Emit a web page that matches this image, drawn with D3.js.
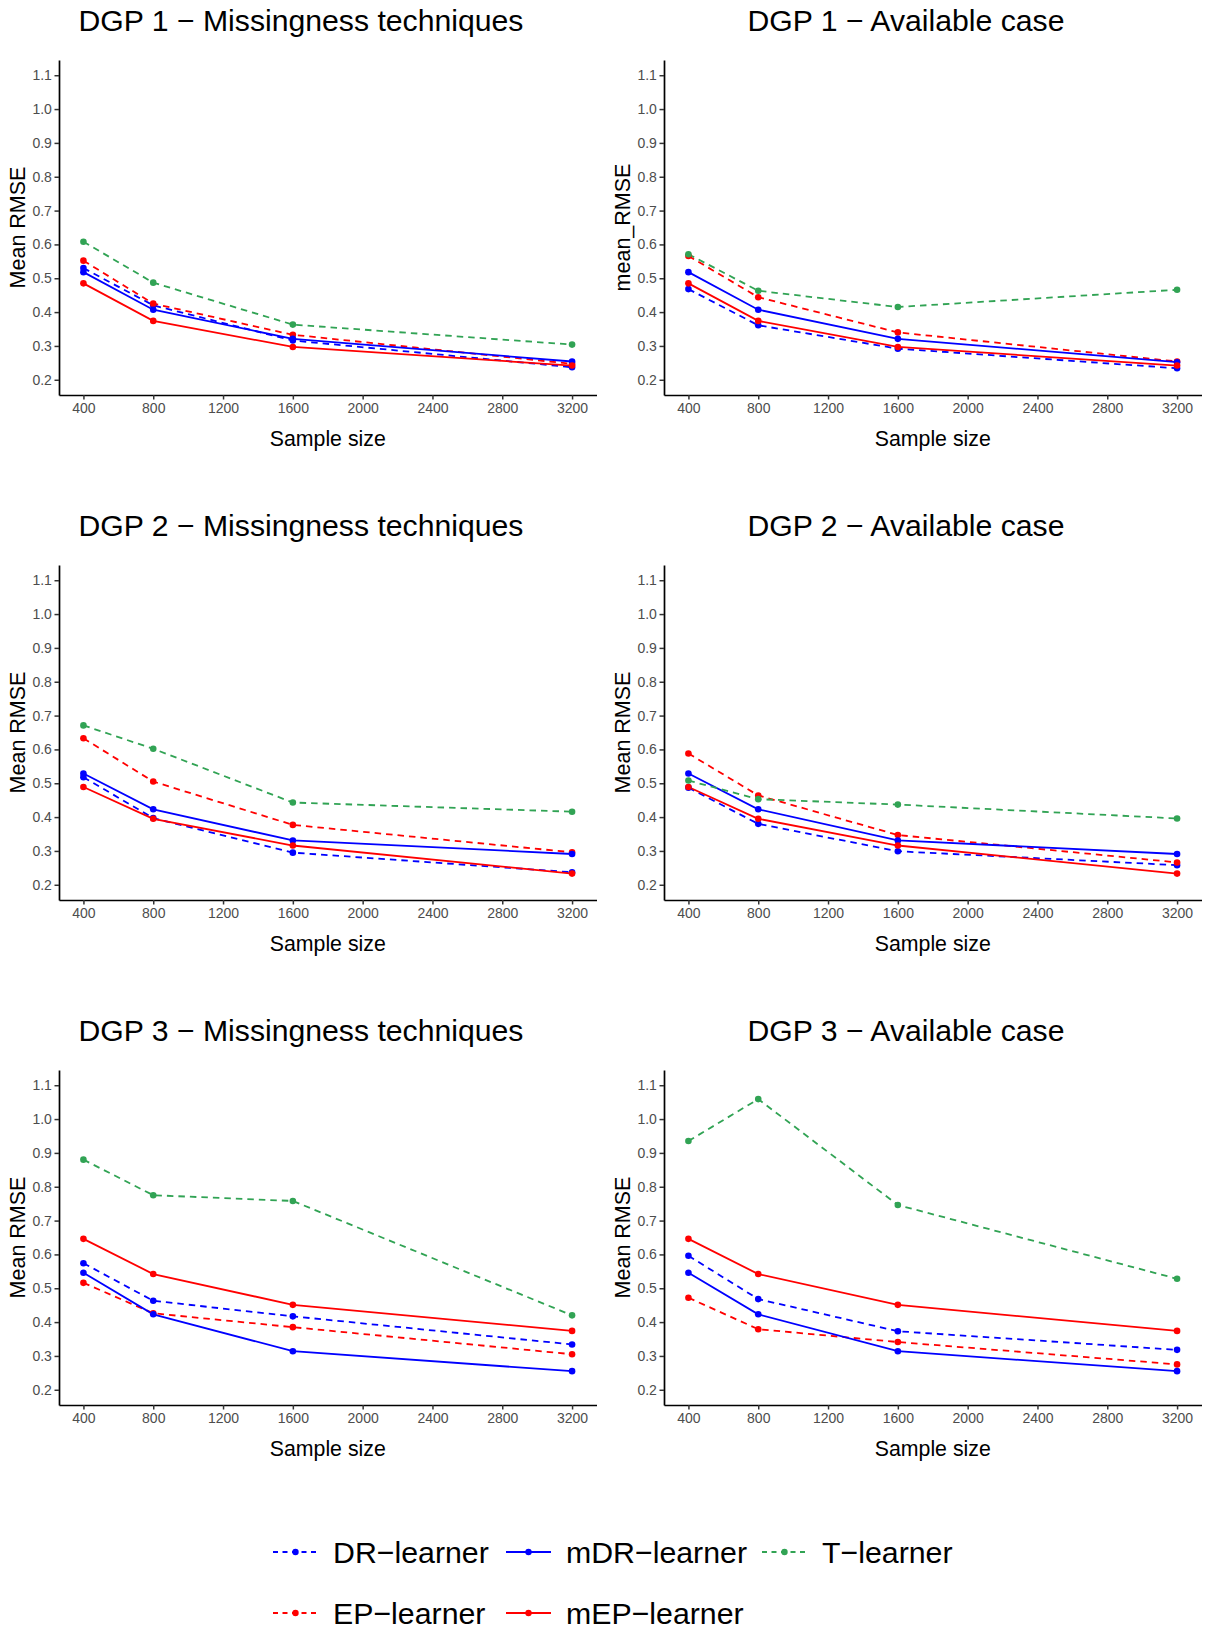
<!DOCTYPE html>
<html><head><meta charset="utf-8">
<script src="https://cdn.jsdelivr.net/npm/d3@7"></script>
<style>body{margin:0;background:#fff}</style>
</head><body><svg id="c" width="1210" height="1650" xmlns="http://www.w3.org/2000/svg"></svg>
<script>
// ---------- data ----------
const sampleSizes = [400, 800, 1600, 3200];
const xTicks = [400, 800, 1200, 1600, 2000, 2400, 2800, 3200];
const yTicks = [0.2, 0.3, 0.4, 0.5, 0.6, 0.7, 0.8, 0.9, 1.0, 1.1];
const learners = ["DR\u2212learner", "EP\u2212learner", "mDR\u2212learner", "mEP\u2212learner", "T\u2212learner"];
const learnerColors = ["#0000FF", "#FF0000", "#0000FF", "#FF0000", "#31A354"];
const learnerDashed = [true, true, false, false, true];

// series order follows `learners`: DR, EP, mDR, mEP, T
const dgp1Missing = [
  [0.530, 0.420, 0.316, 0.237],
  [0.552, 0.425, 0.333, 0.247],
  [0.518, 0.407, 0.321, 0.254],
  [0.485, 0.374, 0.297, 0.242],
  [0.608, 0.487, 0.363, 0.304]
];
const dgp1Available = [
  [0.468, 0.361, 0.292, 0.234],
  [0.566, 0.444, 0.340, 0.254],
  [0.518, 0.407, 0.321, 0.252],
  [0.485, 0.374, 0.297, 0.242],
  [0.571, 0.463, 0.415, 0.466]
];
const dgp2Missing = [
  [0.518, 0.397, 0.295, 0.237],
  [0.633, 0.505, 0.377, 0.296],
  [0.529, 0.423, 0.331, 0.291],
  [0.489, 0.395, 0.316, 0.233],
  [0.671, 0.602, 0.443, 0.416]
];
const dgp2Available = [
  [0.487, 0.380, 0.299, 0.258],
  [0.588, 0.464, 0.347, 0.266],
  [0.529, 0.423, 0.331, 0.291],
  [0.489, 0.395, 0.316, 0.233],
  [0.508, 0.453, 0.437, 0.396]
];
const dgp3Missing = [
  [0.574, 0.463, 0.417, 0.334],
  [0.516, 0.426, 0.385, 0.305],
  [0.546, 0.423, 0.314, 0.255],
  [0.646, 0.542, 0.451, 0.374],
  [0.880, 0.775, 0.758, 0.420]
];
const dgp3Available = [
  [0.596, 0.468, 0.373, 0.318],
  [0.472, 0.379, 0.341, 0.275],
  [0.546, 0.423, 0.314, 0.255],
  [0.646, 0.542, 0.451, 0.374],
  [0.935, 1.059, 0.746, 0.528]
];
const panelData = [dgp1Missing, dgp1Available, dgp2Missing, dgp2Available, dgp3Missing, dgp3Available];
const panelTitles = [
  "DGP 1 \u2212 Missingness techniques", "DGP 1 \u2212 Available case",
  "DGP 2 \u2212 Missingness techniques", "DGP 2 \u2212 Available case",
  "DGP 3 \u2212 Missingness techniques", "DGP 3 \u2212 Available case"
];
const yLabels = ["Mean RMSE", "mean_RMSE", "Mean RMSE", "Mean RMSE", "Mean RMSE", "Mean RMSE"];
const xLabel = "Sample size";
const yLimits = [0.2, 1.1];

// ---------- drawing ----------
const FONT = "'Liberation Sans', Arial, Helvetica, sans-serif";
const svg = d3.select("#c");
svg.append("rect").attr("width", 1210).attr("height", 1650).attr("fill", "#fff");

const xExt = d3.extent(sampleSizes), xPad = (xExt[1] - xExt[0]) * 0.05;
const yPad = (yLimits[1] - yLimits[0]) * 0.05;

panelData.forEach((series, i) => {
  const col = i % 2, row = Math.floor(i / 2);
  const ox = col * 605, oy = row * 505;
  const g = svg.append("g");
  const x = d3.scaleLinear().domain([xExt[0] - xPad, xExt[1] + xPad]).range([ox + 59, ox + 596.5]);
  const y = d3.scaleLinear().domain([yLimits[0] - yPad, yLimits[1] + yPad]).range([oy + 395, oy + 60]);

  // title
  g.append("text").attr("x", ox + 301).attr("y", oy + 30.5)
    .attr("text-anchor", "middle").attr("font-family", FONT).attr("font-size", 30.2)
    .attr("fill", "#000").text(panelTitles[i]);

  // axes
  const ya = g.append("g").attr("transform", `translate(${ox + 59},0)`)
    .call(d3.axisLeft(y).tickValues(yTicks).tickFormat(d3.format(".1f")).tickSize(4.5).tickSizeOuter(0).tickPadding(2.6));
  const xa = g.append("g").attr("transform", `translate(0,${oy + 395})`)
    .call(d3.axisBottom(x).tickValues(xTicks).tickFormat(d3.format("d")).tickSize(4.5).tickSizeOuter(0).tickPadding(3.8));
  [ya, xa].forEach(a => {
    a.select(".domain").attr("stroke", "#000").attr("stroke-width", 1.7);
    a.selectAll(".tick line").attr("stroke", "#333").attr("stroke-width", 1.5);
    a.selectAll(".tick text").attr("fill", "#4d4d4d").attr("font-family", FONT).attr("font-size", 14);
  });

  // axis titles
  g.append("text").attr("transform", `translate(${ox + 25},${oy + 227.5}) rotate(-90)`)
    .attr("text-anchor", "middle").attr("font-family", FONT).attr("font-size", 21.5)
    .attr("fill", "#000").text(yLabels[i]);
  g.append("text").attr("x", (x.range()[0] + x.range()[1]) / 2).attr("y", oy + 446)
    .attr("text-anchor", "middle").attr("font-family", FONT).attr("font-size", 21.3)
    .attr("fill", "#000").text(xLabel);

  const line = d3.line().x((d, k) => x(sampleSizes[k])).y(d => y(d));
  // lines first
  series.forEach((vals, s) => {
    g.append("path").attr("d", line(vals)).attr("fill", "none")
      .attr("stroke", learnerColors[s]).attr("stroke-width", 1.8)
      .attr("stroke-dasharray", learnerDashed[s] ? "6.5,5" : null);
  });
  // then points
  series.forEach((vals, s) => {
    g.selectAll(null).data(vals).enter().append("circle")
      .attr("cx", (d, k) => x(sampleSizes[k])).attr("cy", d => y(d))
      .attr("r", 3.3).attr("fill", learnerColors[s]);
  });
});

// ---------- legend (2 rows, filled by column) ----------
const legCols = [273, 506, 762];
const legRows = [1552, 1613];
const lg = svg.append("g");
learners.forEach((name, s) => {
  const c = Math.floor(s / 2), r = s % 2;
  const kx = legCols[c], ky = legRows[r];
  lg.append("line").attr("x1", kx).attr("x2", kx + 45).attr("y1", ky).attr("y2", ky)
    .attr("stroke", learnerColors[s]).attr("stroke-width", 1.8)
    .attr("stroke-dasharray", learnerDashed[s] ? "5,4.5" : null);
  lg.append("circle").attr("cx", kx + 22.5).attr("cy", ky).attr("r", 3.2).attr("fill", learnerColors[s]);
  lg.append("text").attr("x", kx + 60).attr("y", ky + 10.5)
    .attr("font-family", FONT).attr("font-size", 30.3).attr("fill", "#000").text(name);
});
</script></body></html>
